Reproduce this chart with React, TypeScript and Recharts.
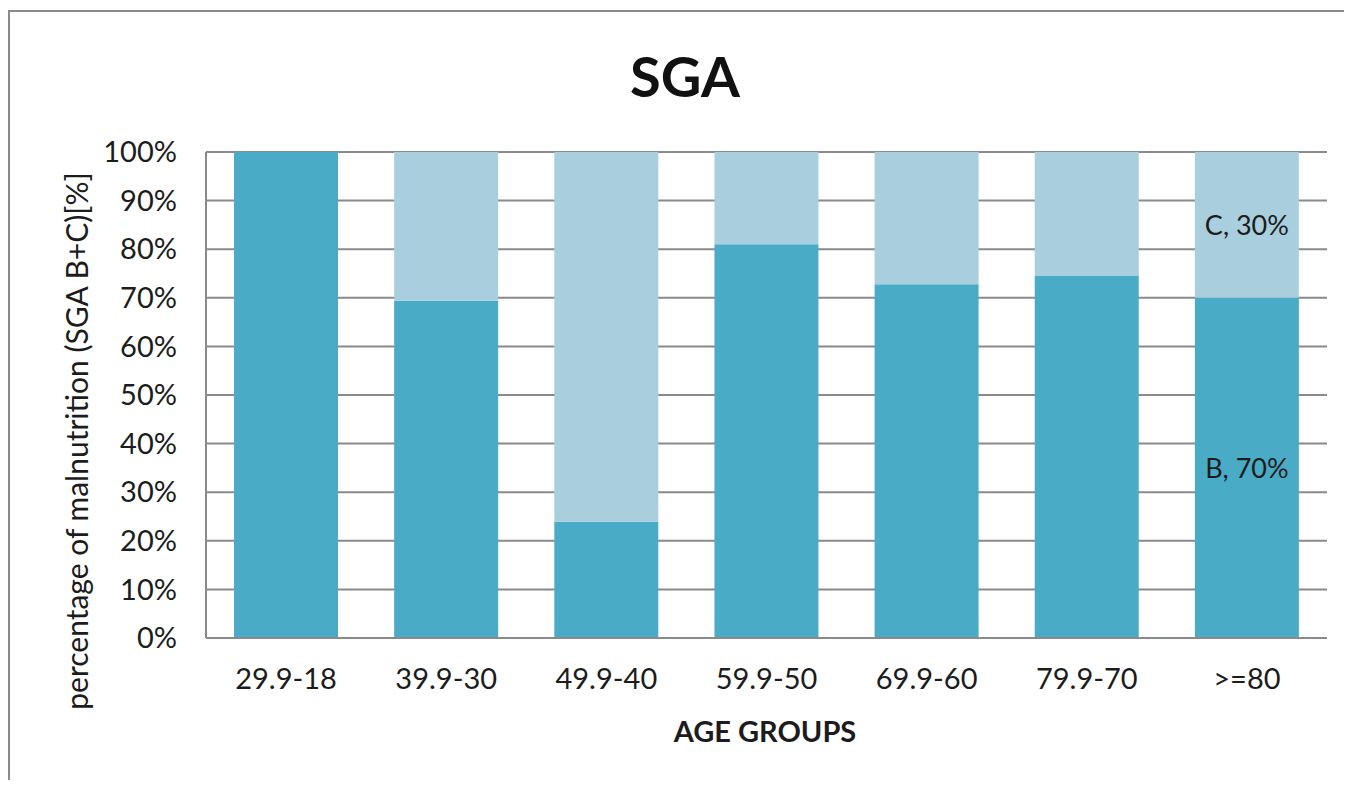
import React from "react";
import { BarChart, Bar, XAxis, YAxis, CartesianGrid, LabelList } from "recharts";

const categories = ["29.9-18", "39.9-30", "49.9-40", "59.9-50", "69.9-60", "79.9-70", ">=80"];
const sgaB = [100, 69.4, 23.9, 81, 72.8, 74.5, 70];
const sgaC = [0, 30.6, 76.1, 19, 27.2, 25.5, 30];
// data labels only appear on the last group
const labelsB = ["", "", "", "", "", "", "B, 70%"];
const labelsC = ["", "", "", "", "", "", "C, 30%"];
const yTicks = [0, 10, 20, 30, 40, 50, 60, 70, 80, 90, 100];

const data = categories.map((name, i) => ({
  name,
  B: sgaB[i],
  C: sgaC[i],
  labelB: labelsB[i],
  labelC: labelsC[i],
}));

const FONT = "Lato, 'Open Sans', sans-serif";
const TEXT = "#1c1c1c";
const GRID = "#8a8a8a";

const SegmentLabel = (props: any) => {
  const { x, y, width, height, value } = props;
  if (!value) return null;
  return (
    <text
      x={x + width / 2}
      y={y + height / 2}
      textAnchor="middle"
      dominantBaseline="central"
      fill={TEXT}
      fontFamily={FONT}
      fontSize={27}
    >
      {value}
    </text>
  );
};

const App: React.FC = () => {
  return (
    <div style={{ paddingTop: 2 }}>
      <div
        style={{
          position: "relative",
          width: 1334,
          height: 768,
          borderLeft: `2px solid ${GRID}`,
          borderTop: `2px solid ${GRID}`,
          background: "#fff",
        }}
      >
        <BarChart
          width={1334}
          height={768}
          data={data}
          margin={{ top: 140, right: 17, left: 96, bottom: 102 }}
          barCategoryGap="17.5%"
        >
          <CartesianGrid horizontal vertical={false} stroke={GRID} strokeWidth={2} />
          <XAxis
            dataKey="name"
            height={40}
            axisLine={{ stroke: GRID, strokeWidth: 2 }}
            tickLine={false}
            tickSize={0}
            tickMargin={30}
            tick={{ fill: TEXT, fontFamily: FONT, fontSize: 29 }}
            interval={0}
          />
          <YAxis
            width={100}
            domain={[0, 100]}
            ticks={yTicks}
            tickFormatter={(v) => `${v}%`}
            axisLine={{ stroke: GRID, strokeWidth: 2 }}
            tickLine={false}
            tickSize={0}
            tickMargin={29}
            tick={{ fill: TEXT, fontFamily: FONT, fontSize: 29 }}
            interval={0}
          />
          <Bar dataKey="B" stackId="sga" fill="#4aabc6" isAnimationActive={false}>
            <LabelList dataKey="labelB" content={SegmentLabel} />
          </Bar>
          <Bar dataKey="C" stackId="sga" fill="#a9cedd" isAnimationActive={false}>
            <LabelList dataKey="labelC" content={SegmentLabel} />
          </Bar>
        </BarChart>
        <svg
          width={1334}
          height={768}
          style={{ position: "absolute", left: 0, top: 0, pointerEvents: "none" }}
        >
          <text x={675} y={85} textAnchor="middle" fontFamily={FONT} fontWeight={700} fontSize={56} fill="#111">
            SGA
          </text>
          <text x={755} y={730} textAnchor="middle" fontFamily={FONT} fontWeight={700} fontSize={29} fill={TEXT}>
            AGE GROUPS
          </text>
          <text
            x={78}
            y={429}
            transform="rotate(-90, 78, 429)"
            textAnchor="middle"
            fontFamily={FONT}
            fontSize={30}
            fill={TEXT}
          >
            percentage of malnutrition (SGA B+C)[%]
          </text>
        </svg>
      </div>
    </div>
  );
};

export default App;
